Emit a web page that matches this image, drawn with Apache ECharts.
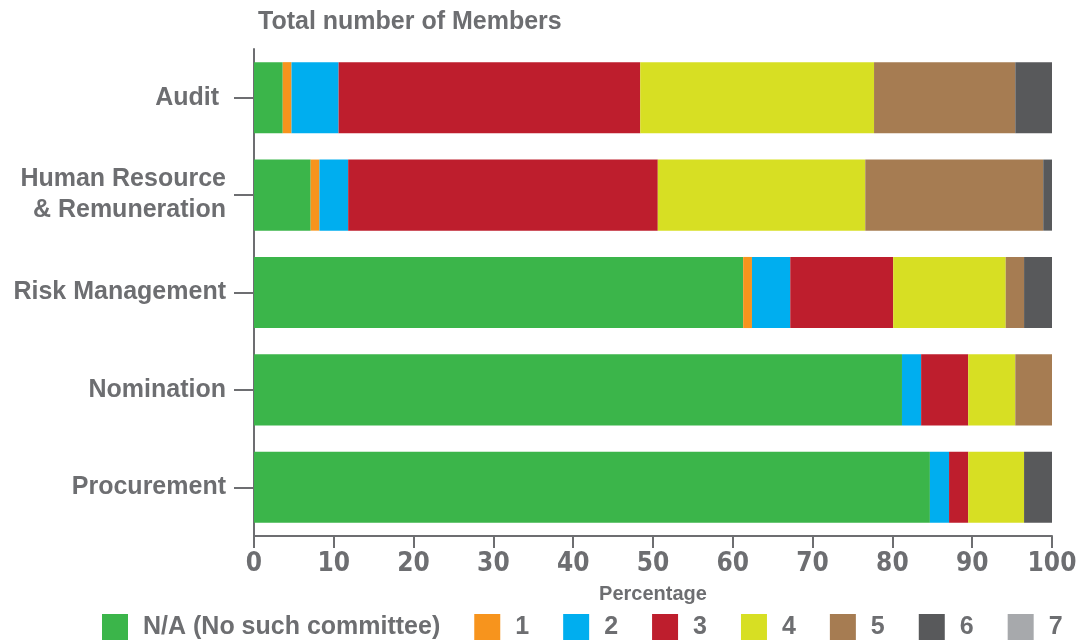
<!DOCTYPE html>
<html>
<head>
<meta charset="utf-8">
<script src="https://cdn.jsdelivr.net/npm/echarts@6/dist/echarts.min.js"></script>
<style>
html,body{margin:0;padding:0;background:#fff;}
#chart{width:1077px;height:642px;}
</style>
</head>
<body>
<div id="chart"></div>
<script>
const categories = ['Audit ', 'Human Resource\n& Remuneration', 'Risk Management', 'Nomination', 'Procurement'];
const seriesNames = ['N/A (No such committee)', '1', '2', '3', '4', '5', '6', '7'];
const valuesNA = [3.6, 7.1, 61.3, 81.2, 84.7];
const values1 = [1.1, 1.1, 1.1, 0, 0];
const values2 = [5.9, 3.6, 4.8, 2.4, 2.4];
const values3 = [37.8, 38.8, 12.9, 5.9, 2.4];
const values4 = [29.3, 26.0, 14.1, 5.9, 7.0];
const values5 = [17.7, 22.3, 2.3, 4.6, 0];
const values6 = [4.6, 1.1, 3.5, 0, 3.5];
const values7 = [0, 0, 0, 0, 0];
const xTicks = [0, 10, 20, 30, 40, 50, 60, 70, 80, 90, 100];

const colors = ['#3bb54a', '#f7941d', '#00aeef', '#be1e2d', '#d7df23', '#a67c52', '#58595b', '#a7a9ac'];
const allValues = [valuesNA, values1, values2, values3, values4, values5, values6, values7];
const textColor = '#6d6e71';
const font = 'Liberation Sans, Arial, Helvetica, sans-serif';
const narrowFont = '"Liberation Sans Narrow", "Arial Narrow", "DejaVu Sans Condensed", sans-serif';

const chart = echarts.init(document.getElementById('chart'), null, {renderer: 'canvas'});
chart.setOption({
  animation: false,
  backgroundColor: '#ffffff',
  title: {
    text: 'Total number of Members',
    left: 253, top: 5,
    textStyle: {color: textColor, fontSize: 25, fontWeight: 'bold', fontFamily: font}
  },
  legend: {
    left: 102, top: 614, padding: 0, width: 975,
    itemWidth: 26, itemHeight: 26, itemGap: 34,
    icon: 'rect',
    data: seriesNames,
    textStyle: {color: textColor, fontSize: 25, fontWeight: 'bold', fontFamily: font, padding: [0, 0, 0, 10]}
  },
  grid: {left: 254, right: 25, top: 49, bottom: 106, containLabel: false, outerBoundsMode: 'none'},
  xAxis: {
    type: 'value', min: xTicks[0], max: xTicks[xTicks.length - 1], interval: 10,
    name: 'Percentage', nameLocation: 'middle', nameGap: 48,
    nameTextStyle: {color: textColor, fontSize: 20, fontWeight: 'bold', fontFamily: font},
    axisLine: {show: true, lineStyle: {color: textColor, width: 2}},
    axisTick: {show: true, length: 12, lineStyle: {color: textColor, width: 2}},
    splitLine: {show: false},
    axisLabel: {color: textColor, fontSize: 26, fontWeight: 'bold', fontFamily: narrowFont, margin: 15, hideOverlap: false}
  },
  yAxis: {
    type: 'category', data: categories, inverse: true,
    axisLine: {show: true, lineStyle: {color: textColor, width: 2}},
    axisTick: {show: true, alignWithLabel: true, length: 20, lineStyle: {color: textColor, width: 2}},
    axisLabel: {color: textColor, fontSize: 25, fontWeight: 'bold', fontFamily: font, margin: 28, lineHeight: 31, align: 'right'}
  },
  series: seriesNames.map((name, i) => ({
    name: name,
    type: 'bar',
    stack: 'total',
    barWidth: '73%',
    itemStyle: {color: colors[i]},
    data: allValues[i]
  }))
});
</script>
</body>
</html>
